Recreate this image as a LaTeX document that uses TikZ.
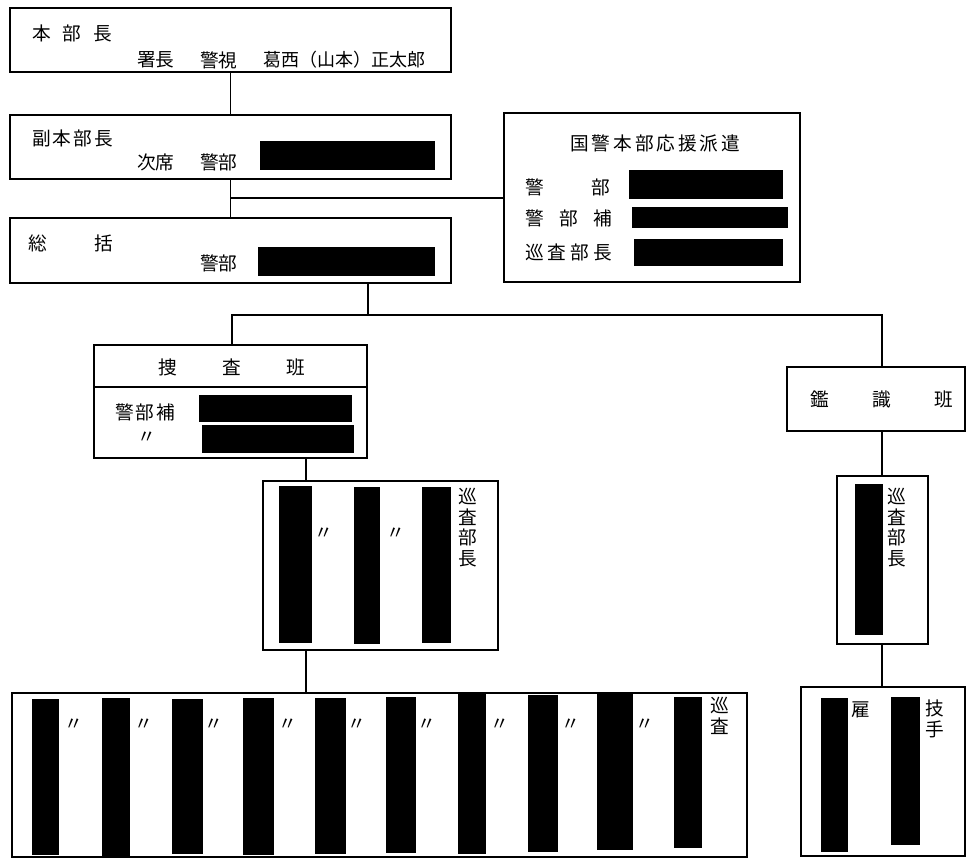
\documentclass[tikz,border=0pt]{standalone}
\usepackage{fontspec}
\setmainfont{Noto Sans CJK JP}
\usetikzlibrary{fit}
\makeatletter
\def\jspc#1#2{\def\jspc@gap{\hspace{#1}}\jspc@loop#2\@nil}
\def\jspc@loop#1#2{#1\ifx#2\@nil\expandafter\@gobbletwo\else\jspc@gap\fi\jspc@loop#2}
\makeatother
\tikzset{
 box/.style={draw, line width=0.9pt, inner sep=0pt, outer sep=0pt},
 blk/.style={fill=black, inner sep=0pt, outer sep=0pt},
 lbl/.style={inner sep=0pt, anchor=west, font=\fontsize{14}{16}\selectfont},
 vlbl/.style={inner sep=0pt, anchor=north, align=center, font=\fontsize{14}{15.4}\selectfont},
 ditto/.style={inner sep=0pt, font=\fontsize{14}{16}\selectfont},
 conn/.style={line width=0.9pt}
}
\begin{document}
\begin{tikzpicture}[x=0.75pt,y=-0.75pt]
\useasboundingbox (0,0) rectangle (969,859);
% boxes
\node[box, fit={(10,8)(451,72)}] (hq) {};
\node[box, fit={(10,115)(451,179)}] (vice) {};
\node[box, fit={(10,218)(451,283)}] (gen) {};
\node[box, fit={(504,113)(800,282)}] (kok) {};
\node[box, fit={(94,345)(367,458)}] (sousa) {};
\node[box, fit={(787,367)(965,431)}] (kan) {};
\node[box, fit={(263,481)(498,650)}] (sgt) {};
\node[box, fit={(837,476)(928,644)}] (ksgt) {};
\node[box, fit={(12,693)(747,857)}] (pat) {};
\node[box, fit={(801,687)(965,856)}] (tech) {};
% connectors
\coordinate (jk) at (231,198);
\coordinate (j1) at (368,315);
\coordinate (ja) at (232,315);
\coordinate (jb) at (882,315);
\coordinate (c1) at (306,470);
\coordinate (dv) at (0,387);
\draw[conn] (hq.south) -- (vice.north);
\draw[conn] (vice.south) -- (gen.north);
\draw[conn] (jk) -- (kok.west |- jk);
\draw[conn] (gen.south -| j1) -- (j1);
\draw[conn] (sousa.north -| ja) -- (ja) -- (jb) -- (kan.north -| jb);
\draw[conn] (sousa.south -| c1) -- (sgt.north -| c1);
\draw[conn] (sgt.south -| c1) -- (pat.north -| c1);
\draw[conn] (kan.south -| jb) -- (ksgt.north -| jb);
\draw[conn] (ksgt.south -| jb) -- (tech.north -| jb);
\draw[conn] (sousa.west |- dv) -- (sousa.east |- dv);
% top box
\node[lbl] (t1) at (32,33) {\jspc{9pt}{本部長}};
\node[lbl] (t2) at (137,60) {署長};
\node[lbl] (t3) at (200,60) {警視};
\node[lbl,font=\fontsize{13.5}{16}\selectfont] (t4) at (263,60) {葛西（山本）正太郎};
% vice
\node[lbl] (t5) at (32,138) {\jspc{1.5pt}{副本部長}};
\node[lbl] (t6) at (137,162) {次席};
\node[lbl] (t7) at (200,162) {警部};
\node[blk, fit={(260,141)(435,170)}] (b1) {};
% general
\node[lbl] (t8) at (28,243) {総};
\node[lbl] (t9) at (94,243) {括};
\node[lbl] (t10) at (200,263) {警部};
\node[blk, fit={(258,247)(435,276)}] (b2) {};
% kokkei
\node[lbl] (t11) at (570,143) {\jspc{2.2pt}{国警本部応援派遣}};
\node[lbl] (t12) at (525,187) {\jspc{36pt}{警部}};
\node[lbl] (t13) at (525,218) {\jspc{11.5pt}{警部補}};
\node[lbl] (t14) at (525,252) {\jspc{3pt}{巡査部長}};
\node[blk, fit={(629,170)(783,199)}] (b3) {};
\node[blk, fit={(632,207)(788,228)}] (b4) {};
\node[blk, fit={(634,239)(783,266)}] (b5) {};
% sousa
\node[lbl] (t15) at (158,367) {\jspc{34pt}{捜査班}};
\node[lbl] (t16) at (115,412) {\jspc{1.5pt}{警部補}};
\node[ditto] (t17) at (147,438) {〃};
\node[blk, fit={(199,395)(352,422)}] (b6) {};
\node[blk, fit={(202,425)(354,453)}] (b7) {};
% kanshiki
\node[lbl] (t18) at (810,399) {\jspc{32.5pt}{鑑識班}};
% sergeants
\node[blk, fit={(279,486)(312,643)}] (b8) {};
\node[blk, fit={(354,487)(380,644)}] (b9) {};
\node[blk, fit={(422,487)(451,643)}] (b10) {};
\node[ditto] (t19) at (324,534) {〃};
\node[ditto] (t20) at (396,534) {〃};
\node[vlbl] (t21) at (468,488) {巡\\査\\部\\長};
\node[blk, fit={(855,484)(883,635)}] (b11) {};
\node[vlbl] (t22) at (897,488) {巡\\査\\部\\長};
% patrol
\foreach \i/\a/\b/\c/\d in {1/32/699/59/855, 2/102/698/130/858, 3/172/699/203/854, 4/243/698/274/855, 5/315/698/346/854, 6/386/697/416/853, 7/458/694/486/854, 8/528/695/558/852, 9/597/694/633/850, 10/674/697/702/848}
  \node[blk, fit={(\a,\b)(\c,\d)}] (p\i) {};
\foreach \i/\x in {1/74, 2/144, 3/214, 4/288, 5/357, 6/427, 7/500, 8/571, 9/645}
  \node[ditto] (d\i) at (\x,725) {〃};
\node[vlbl] (t23) at (720,697) {巡\\査};
% tech
\node[blk, fit={(821,698)(848,852)}] (b22) {};
\node[blk, fit={(891,697)(920,845)}] (b23) {};
\node[lbl] (t24) at (851,710) {雇};
\node[vlbl] (t25) at (935,700) {技\\手};
\end{tikzpicture}
\end{document}
